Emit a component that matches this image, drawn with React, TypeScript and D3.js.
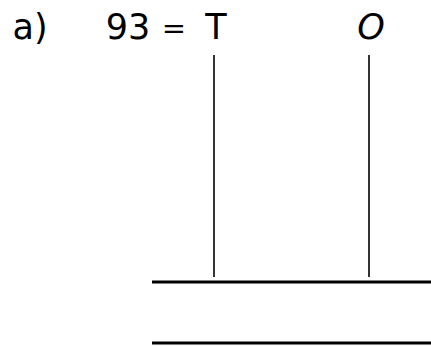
import React from "react";
import * as d3 from "d3";

const questionLabel = "a)";
const numberValue = "93";
const placeColumns = ["T", "O"];
const columnItalic = [false, true];
const answerLines = [0, 1];

const W = 431;
const H = 347;

export default function App() {
  const x = d3.scalePoint<string>().domain(placeColumns).range([214, 369]);
  const yLines = d3.scalePoint<number>().domain(answerLines).range([282, 343]);
  const font = "'DejaVu Sans', 'Noto Sans', sans-serif";
  const fs = 35;
  const baseline = 39;
  return (
    <svg
      width={W}
      height={H}
      style={{ position: "absolute", left: 0, top: 0, background: "#fff" }}
    >
      <text x={30} y={baseline} fontFamily={font} fontSize={fs} textAnchor="middle" fill="#000">
        {questionLabel}
      </text>
      <text x={128} y={baseline} fontFamily={font} fontSize={fs} textAnchor="middle" fill="#000">
        {numberValue}
      </text>
      <text x={174} y={baseline - 1} fontFamily={font} fontSize={fs - 6} textAnchor="middle" fill="#000">
        =
      </text>
      {placeColumns.map((c, i) => (
        <g key={c}>
          <text
            x={(x(c) as number) + 2}
            y={baseline}
            fontFamily={font}
            fontSize={fs}
            fontStyle={columnItalic[i] ? "italic" : "normal"}
            textAnchor="middle"
            fill="#000"
          >
            {c}
          </text>
          <line x1={x(c)} x2={x(c)} y1={55} y2={277} stroke="#000" strokeWidth={1.6} />
        </g>
      ))}
      {answerLines.map((l) => (
        <line key={l} x1={152} x2={W} y1={yLines(l)} y2={yLines(l)} stroke="#000" strokeWidth={2.8} />
      ))}
    </svg>
  );
}
